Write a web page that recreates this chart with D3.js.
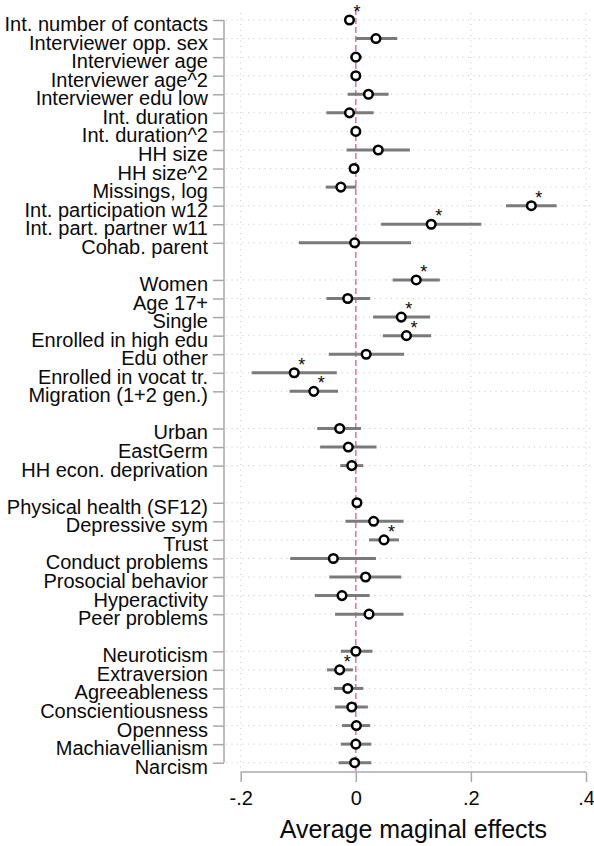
<!DOCTYPE html>
<html>
<head>
<meta charset="utf-8">
<script src="https://cdn.jsdelivr.net/npm/d3@7"></script>
<style>
  html, body { margin: 0; padding: 0; background: #fff; }
  svg { display: block; font-family: "Liberation Sans", Arial, sans-serif; }
</style>
</head>
<body>
<svg id="chart" width="594" height="846"></svg>
<script>
// Average marginal effects with 95% confidence intervals
const variables = [
  "Int. number of contacts", "Interviewer opp. sex", "Interviewer age", "Interviewer age^2",
  "Interviewer edu low", "Int. duration", "Int. duration^2", "HH size", "HH size^2",
  "Missings, log", "Int. participation w12", "Int. part. partner w11", "Cohab. parent",
  "Women", "Age 17+", "Single", "Enrolled in high edu", "Edu other",
  "Enrolled in vocat tr.", "Migration (1+2 gen.)",
  "Urban", "EastGerm", "HH econ. deprivation",
  "Physical health (SF12)", "Depressive sym", "Trust", "Conduct problems",
  "Prosocial behavior", "Hyperactivity", "Peer problems",
  "Neuroticism", "Extraversion", "Agreeableness", "Conscientiousness",
  "Openness", "Machiavellianism", "Narcism"
];
// block each variable belongs to (a blank row separates blocks)
const block = [
  0,0,0,0,0,0,0,0,0,0,0,0,0,
  1,1,1,1,1,1,1,
  2,2,2,
  3,3,3,3,3,3,3,
  4,4,4,4,4,4,4
];
const estimate = [
  -0.011, 0.035, 0.000, 0.000, 0.022, -0.011, 0.000, 0.039, -0.003, -0.026, 0.305, 0.131, -0.002,
  0.105, -0.014, 0.079, 0.088, 0.018, -0.107, -0.073,
  -0.028, -0.013, -0.007,
  0.002, 0.031, 0.049, -0.039, 0.017, -0.024, 0.023,
  0.000, -0.028, -0.014, -0.007, 0.001, 0.000, -0.002
];
const lower = [
  -0.014, 0.000, -0.010, -0.002, -0.014, -0.051, -0.002, -0.016, -0.005, -0.052, 0.261, 0.044, -0.099,
  0.064, -0.051, 0.030, 0.047, -0.047, -0.181, -0.115,
  -0.067, -0.062, -0.027,
  0.000, -0.018, 0.023, -0.114, -0.046, -0.071, -0.036,
  -0.026, -0.050, -0.038, -0.036, -0.024, -0.026, -0.030
];
const upper = [
  -0.008, 0.072, 0.011, 0.002, 0.057, 0.031, 0.002, 0.094, -0.001, 0.001, 0.349, 0.218, 0.096,
  0.146, 0.025, 0.129, 0.131, 0.084, -0.033, -0.031,
  0.009, 0.036, 0.013,
  0.004, 0.083, 0.075, 0.035, 0.079, 0.024, 0.083,
  0.029, -0.005, 0.013, 0.021, 0.025, 0.027, 0.027
];
const significant = [
  1,0,0,0,0,0,0,0,0,0,1,1,0,
  1,0,1,1,0,1,1,
  0,0,0,
  0,0,1,0,0,0,0,
  0,1,0,0,0,0,0
];
const xTicks = [-0.2, 0, 0.2, 0.4];
const xTickLabels = ["-.2", "0", ".2", ".4"];
const xTitle = "Average maginal effects";

const rows = variables.map((name, i) => ({
  name, slot: i + block[i], est: estimate[i], lo: lower[i], hi: upper[i], sig: significant[i]
}));
const nSlots = d3.max(rows, d => d.slot);

const svg = d3.select("#chart");
const x = d3.scaleLinear().domain([-0.2, 0.4]).range([240.7, 586]);
const y = d3.scaleLinear().domain([0, nSlots]).range([20, 762.7]);

const gridColor = "#c8c8c8";
const axisColor = "#a8a8a8";
const textColor = "#0a0a0a";
const font = '"Liberation Sans", Arial, sans-serif';

// horizontal dotted grid at every row
svg.append("g").selectAll("line").data(rows).join("line")
  .attr("x1", 226).attr("x2", 594)
  .attr("y1", d => y(d.slot)).attr("y2", d => y(d.slot))
  .attr("stroke", gridColor).attr("stroke-width", 1)
  .attr("stroke-dasharray", "1,4.5");

// vertical dotted grid at x ticks (zero gets the reference line instead)
svg.append("g").selectAll("line").data(xTicks.filter(v => v !== 0)).join("line")
  .attr("x1", d => x(d)).attr("x2", d => x(d))
  .attr("y1", 13).attr("y2", 772)
  .attr("stroke", gridColor).attr("stroke-width", 1)
  .attr("stroke-dasharray", "1,4.5");

// zero reference line
svg.append("line")
  .attr("x1", x(0)).attr("x2", x(0)).attr("y1", 9).attr("y2", 772)
  .attr("stroke", "#dc7eb2").attr("stroke-width", 1.7)
  .attr("stroke-dasharray", "6,3");

// y axis
const yAxis = d3.axisLeft(y)
  .tickValues(rows.map(d => d.slot))
  .tickFormat((d, i) => rows[i].name)
  .tickSize(11).tickPadding(5);
const gy = svg.append("g").attr("transform", "translate(224,0)").call(yAxis);
gy.select(".domain").attr("d", `M0,${y(0)}V${y(nSlots)}`).attr("stroke", axisColor).attr("stroke-width", 1.5);
gy.selectAll(".tick line").attr("stroke", axisColor).attr("stroke-width", 1.5);
gy.selectAll(".tick text")
  .attr("dy", null).attr("y", 10.5)
  .attr("fill", textColor).style("font-size", "20px")
  .style("font-family", font);

// x axis
const xAxis = d3.axisBottom(x).tickValues(xTicks)
  .tickFormat((d, i) => xTickLabels[i]).tickSize(10).tickPadding(9);
const gx = svg.append("g").attr("transform", "translate(0,772)").call(xAxis);
gx.select(".domain").attr("d", `M${x(-0.2)},0H${x(0.4)}`).attr("stroke", axisColor).attr("stroke-width", 1.5);
gx.selectAll(".tick line").attr("stroke", axisColor).attr("stroke-width", 1.5);
gx.selectAll(".tick text")
  .attr("fill", textColor).style("font-size", "20px")
  .style("font-family", font);

svg.append("text")
  .attr("x", (x(-0.2) + x(0.4)) / 2).attr("y", 838)
  .attr("text-anchor", "middle").attr("fill", textColor)
  .style("font-size", "25px").text(xTitle);

// confidence intervals
svg.append("g").selectAll("line").data(rows).join("line")
  .attr("x1", d => x(d.lo)).attr("x2", d => x(d.hi))
  .attr("y1", d => y(d.slot)).attr("y2", d => y(d.slot))
  .attr("stroke", "#7a7a7a").attr("stroke-width", 3);

// point estimates
svg.append("g").selectAll("circle").data(rows).join("circle")
  .attr("cx", d => x(d.est)).attr("cy", d => y(d.slot)).attr("r", 4.3)
  .attr("fill", "#fff").attr("stroke", "#000").attr("stroke-width", 2.5);

// significance stars
svg.append("g").selectAll("text").data(rows.filter(d => d.sig)).join("text")
  .attr("x", d => x(d.est) + 7.5).attr("y", d => y(d.slot) - 2)
  .attr("text-anchor", "middle").attr("fill", textColor)
  .style("font-size", "18px").text("*");
</script>
</body>
</html>
